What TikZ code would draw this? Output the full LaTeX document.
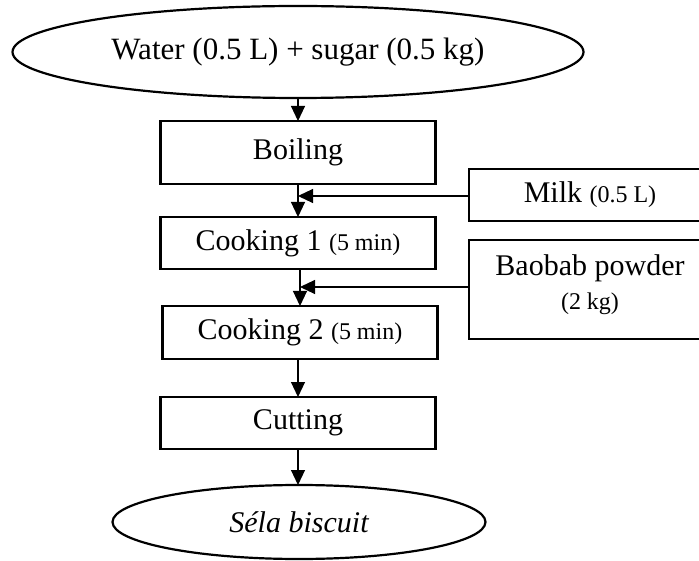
\documentclass[tikz,border=0pt]{standalone}
\usepackage{fontspec}
\setmainfont{Liberation Serif}
\usetikzlibrary{shapes.geometric,arrows.meta}
\begin{document}
\begin{tikzpicture}[x=1pt,y=-1pt,
  every node/.style={font=\fontsize{30}{34}\selectfont, inner sep=0pt, outer sep=0pt},
  stepbox/.style={draw, line width=2.2pt, rectangle, minimum width=275pt, minimum height=52pt},
  endbox/.style={draw, line width=2.2pt, ellipse},
  flow/.style={line width=1.1pt, -{Triangle[length=15pt,width=14pt]}},
  feed/.style={line width=1.1pt, -{Triangle[length=15pt,width=14pt]}}]
\newcommand{\sm}[1]{{\fontsize{24}{28}\selectfont #1}}
\useasboundingbox (0,0) rectangle (699,561);
\clip (0,0) rectangle (699,561);
% raw materials and product
\node[endbox, minimum width=571pt, minimum height=92pt, font=\fontsize{31}{35}\selectfont] (water) at (298,52) {Water (0.5 L) + sugar (0.5 kg)};
\node[endbox, minimum width=373pt, minimum height=74pt] (sela) at (299,522) {\itshape Séla biscuit};
% process steps
\node[stepbox, minimum height=63pt] (boil) at (298,152.5) {Boiling};
\node[stepbox] (cook1) at (298,243) {Cooking 1 \sm{(5 min)}};
\node[stepbox, minimum height=53pt] (cook2) at (300,332.5) {Cooking 2 \sm{(5 min)}};
\node[stepbox] (cut) at (298,423) {Cutting};
% added ingredients
\node[draw, line width=2.2pt, minimum width=242pt, minimum height=52pt] (milk) at (590,195) {Milk \sm{(0.5 L)}};
\node[draw, line width=2.2pt, minimum width=242pt, minimum height=99pt] (baobab) at (590,289.5) {};
\node[align=center] (baobabtxt) at (590,285) {Baobab powder\\[0pt]\sm{(2 kg)}};
% connectors
\draw[flow] (water.south) -- (boil.north);
\draw[flow] (boil.south) -- (cook1.north);
\draw[flow] (cook1.south -| cook2) -- (cook2.north);
\draw[flow] (cook2.south -| cut) -- (cut.north);
\draw[flow] (cut.south) -- (sela.north -| cut);
\draw[feed] ([yshift=-1pt]milk.west) -- ([yshift=-1pt]milk.west -| boil);
\draw[feed] ([yshift=2.5pt]baobab.west) -- ([yshift=2.5pt]baobab.west -| cook2);
\end{tikzpicture}
\end{document}
